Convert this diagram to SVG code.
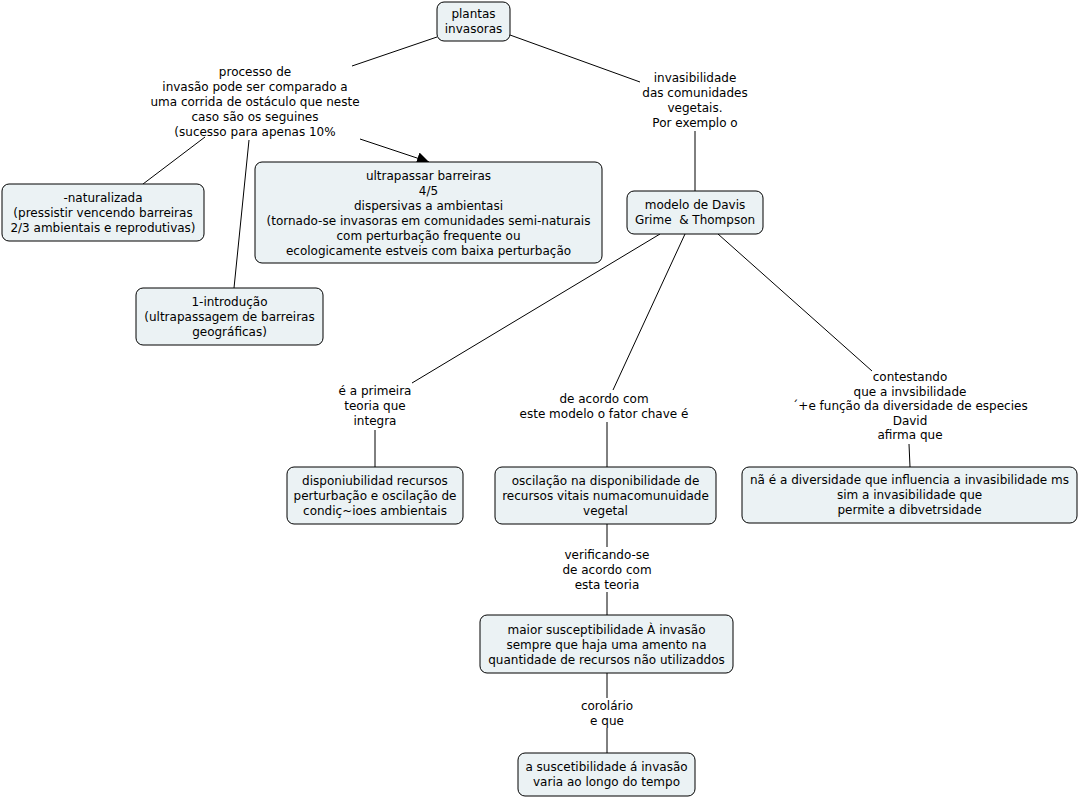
<svg xmlns="http://www.w3.org/2000/svg" width="1079" height="798" viewBox="0 0 1079 798">
<defs>
<style>
.n rect{fill:#ebf2f4;stroke:#000;stroke-width:1;}
text{font-family:"DejaVu Sans","Liberation Sans",sans-serif;font-size:12px;fill:#000;text-anchor:middle;}
.pre{white-space:pre;}
.c line{stroke:#000;stroke-width:1;}
</style>
<marker id="ar" viewBox="0 0 10 10" refX="10" refY="5" markerWidth="12" markerHeight="12" markerUnits="userSpaceOnUse" orient="auto">
<path d="M0,0 L10,5 L0,10 z" fill="#000"/>
</marker>
</defs>
<rect width="1079" height="798" fill="#fff"/>
<g class="c" id="connectors">
<line x1="437" y1="37" x2="352" y2="66"/>
<line x1="510" y1="35" x2="640" y2="82"/>
<line x1="695" y1="131" x2="695" y2="191"/>
<line x1="205" y1="137" x2="143" y2="184"/>
<line x1="249" y1="140" x2="234" y2="288"/>
<line x1="360" y1="139" x2="429" y2="162" marker-end="url(#ar)"/>
<line x1="660" y1="234" x2="412" y2="383"/>
<line x1="685" y1="234" x2="613" y2="390"/>
<line x1="718" y1="234" x2="872" y2="371"/>
<line x1="375" y1="430" x2="375" y2="467"/>
<line x1="607" y1="422" x2="607" y2="467"/>
<line x1="909" y1="444" x2="910" y2="467"/>
<line x1="607" y1="524" x2="607" y2="547"/>
<line x1="607" y1="592" x2="607" y2="615"/>
<line x1="607" y1="673" x2="607" y2="698"/>
<line x1="607" y1="728" x2="607" y2="753"/>
</g>
<g class="n" id="n-plantas">
<rect x="437" y="2" width="73" height="39" rx="7"/>
<text x="473.5" y="18">plantas<tspan x="473.5" dy="15">invasoras</tspan></text>
</g>
<g class="n" id="n-naturalizada">
<rect x="2" y="184" width="202" height="57" rx="7"/>
<text x="103" y="201.5">-naturalizada<tspan x="103" dy="15">(pressistir vencendo barreiras</tspan><tspan x="103" dy="15">2/3 ambientais e reprodutivas)</tspan></text>
</g>
<g class="n" id="n-ultrapassar">
<rect x="255" y="162" width="347" height="101" rx="7"/>
<text x="428.5" y="180">ultrapassar barreiras<tspan x="428.5" dy="15">4/5</tspan><tspan x="428.5" dy="15">dispersivas a ambientasi</tspan><tspan x="428.5" dy="15">(tornado-se invasoras em comunidades semi-naturais</tspan><tspan x="428.5" dy="15">com perturbação frequente ou</tspan><tspan x="428.5" dy="15">ecologicamente estveis com baixa perturbação</tspan></text>
</g>
<g class="n" id="n-introducao">
<rect x="136" y="288" width="187" height="57" rx="7"/>
<text x="229.5" y="305.5">1-introdução<tspan x="229.5" dy="15">(ultrapassagem de barreiras</tspan><tspan x="229.5" dy="15">geográficas)</tspan></text>
</g>
<g class="n" id="n-modelo">
<rect x="627" y="191" width="136" height="43" rx="7"/>
<text x="695" y="209">modelo de Davis</text>
<text class="pre" x="695" y="224" xml:space="preserve">Grime  &amp; Thompson</text>
</g>
<g class="n" id="n-disponibilidade">
<rect x="287" y="467" width="176" height="57" rx="7"/>
<text x="375" y="484.5">disponiubilidad recursos<tspan x="375" dy="15">perturbação e oscilação de</tspan><tspan x="375" dy="15">condiç~ioes ambientais</tspan></text>
</g>
<g class="n" id="n-oscilacao">
<rect x="495" y="467" width="221" height="57" rx="7"/>
<text x="605.5" y="484.5">oscilação na disponibilidade de<tspan x="605.5" dy="15">recursos vitais numacomunuidade</tspan><tspan x="605.5" dy="15">vegetal</tspan></text>
</g>
<g class="n" id="n-diversidade">
<rect x="742" y="467" width="335" height="56" rx="7"/>
<text x="909.5" y="484">nã é a diversidade que influencia a invasibilidade ms<tspan x="909.5" dy="15">sim a invasibilidade que</tspan><tspan x="909.5" dy="15">permite a dibvetrsidade</tspan></text>
</g>
<g class="n" id="n-maior">
<rect x="480" y="615" width="253" height="58" rx="7"/>
<text x="606.5" y="634">maior susceptibilidade À invasão<tspan x="606.5" dy="15">sempre que haja uma amento na</tspan><tspan x="606.5" dy="15">quantidade de recursos não utilizaddos</tspan></text>
</g>
<g class="n" id="n-suscetibilidade">
<rect x="518" y="753" width="177" height="43" rx="7"/>
<text x="606.5" y="771">a suscetibilidade á invasão<tspan x="606.5" dy="15">varia ao longo do tempo</tspan></text>
</g>
<g id="l-processo">
<text x="255" y="76">processo de<tspan x="255" dy="15">invasão pode ser comparado a</tspan><tspan x="255" dy="15">uma corrida de ostáculo que neste</tspan><tspan x="255" dy="15">caso são os seguines</tspan><tspan x="255" dy="15">(sucesso para apenas 10%</tspan></text>
</g>
<g id="l-invasibilidade">
<text x="695" y="82">invasibilidade<tspan x="695" dy="15">das comunidades</tspan><tspan x="695" dy="15">vegetais.</tspan><tspan x="695" dy="15">Por exemplo o</tspan></text>
</g>
<g id="l-primeira">
<text x="375" y="395">é a primeira<tspan x="375" dy="15">teoria que</tspan><tspan x="375" dy="15">integra</tspan></text>
</g>
<g id="l-acordo">
<text x="604" y="403">de acordo com<tspan x="604" dy="15">este modelo o fator chave é</tspan></text>
</g>
<g id="l-contestando">
<text x="910" y="381">contestando<tspan x="910" dy="14.5">que a invsibilidade</tspan><tspan x="910" dy="14.5">´+e função da diversidade de especies</tspan><tspan x="910" dy="14.5">David</tspan><tspan x="910" dy="14.5">afirma que</tspan></text>
</g>
<g id="l-verificando">
<text x="607" y="559">verificando-se<tspan x="607" dy="15">de acordo com</tspan><tspan x="607" dy="15">esta teoria</tspan></text>
</g>
<g id="l-corolario">
<text x="607" y="710">corolário<tspan x="607" dy="15">e que</tspan></text>
</g>
</svg>
